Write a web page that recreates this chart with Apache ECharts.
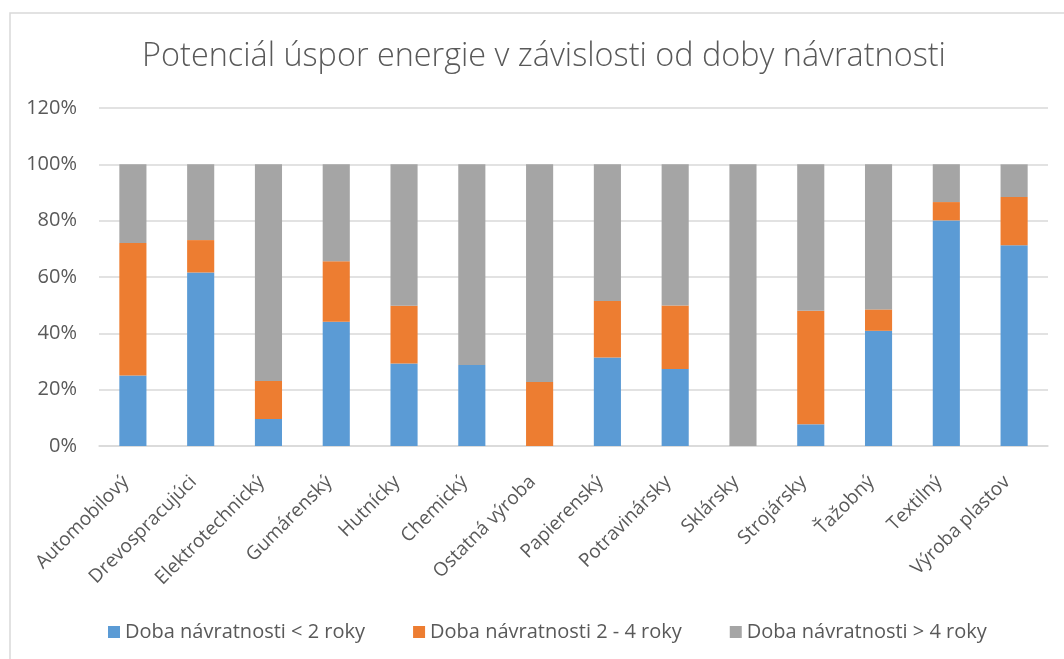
<!DOCTYPE html>
<html>
<head>
<meta charset="utf-8">
<script src="https://cdn.jsdelivr.net/npm/echarts@6/dist/echarts.min.js"></script>
<style>
html,body{margin:0;padding:0;background:#fff;}
#chart{width:1064px;height:659px;}
</style>
</head>
<body>
<div id="chart"></div>
<script>
const titleText = 'Potenciál úspor energie v závislosti od doby návratnosti';
const categories = ['Automobilový','Drevospracujúci','Elektrotechnický','Gumárenský','Hutnícky','Chemický','Ostatná výroba','Papierenský','Potravinársky','Sklársky','Strojársky','Ťažobný','Textilný','Výroba plastov'];
const seriesNames = ['Doba návratnosti < 2 roky','Doba návratnosti 2 - 4 roky','Doba návratnosti > 4 roky'];
const under2 = [25.0, 61.6, 9.6, 44.1, 29.3, 28.8, 0, 31.4, 27.3, 0, 7.7, 40.9, 80.1, 71.3];
const from2to4 = [47.1, 11.5, 13.5, 21.5, 20.5, 0, 22.7, 20.1, 22.6, 0, 40.3, 7.6, 6.5, 17.1];
const over4 = [27.9, 26.9, 76.9, 34.4, 50.2, 71.2, 77.3, 48.5, 50.1, 100, 52.0, 51.5, 13.4, 11.6];
const yTicks = {min: 0, max: 120, interval: 20};

const colors = ['#5B9BD5', '#ED7D31', '#A5A5A5'];
const font = '"Open Sans", "Noto Sans", sans-serif';
const txt = '#595959';

const chart = echarts.init(document.getElementById('chart'));
const mk = (name, data) => ({
  name, type: 'bar', stack: 'total', data,
  barCategoryGap: '60%'
});
chart.setOption({
  animation: false,
  color: colors,
  textStyle: {fontFamily: font},
  graphic: [{
    type: 'rect', shape: {x: 10, y: 13, width: 1200, height: 800},
    style: {fill: 'none', stroke: '#D9D9D9', lineWidth: 1.5}, silent: true
  }],
  title: {
    text: titleText, left: 539, textAlign: 'center', top: 36,
    textStyle: {fontFamily: font, fontWeight: 300, fontSize: 32.4, color: txt}
  },
  legend: {
    top: 617, left: 103, icon: 'rect', itemWidth: 12, itemHeight: 12, itemGap: 48,
    textStyle: {fontFamily: font, fontSize: 20, color: txt},
    data: seriesNames
  },
  grid: {left: 99, right: 16, top: 108, bottom: 213, containLabel: false},
  xAxis: {
    type: 'category', data: categories,
    axisLine: {show: true, lineStyle: {color: '#D9D9D9', width: 1.5}},
    axisTick: {show: false},
    axisLabel: {rotate: 45, margin: 26, padding: [0, 10, 0, 0], fontSize: 19, color: txt, fontFamily: font, interval: 0}
  },
  yAxis: {
    type: 'value', min: yTicks.min, max: yTicks.max, interval: yTicks.interval,
    axisLine: {show: false}, axisTick: {show: false},
    splitLine: {lineStyle: {color: '#D9D9D9', width: 1.5}},
    axisLabel: {formatter: '{value}%', fontSize: 20, color: txt, fontFamily: font, margin: 22}
  },
  series: [mk(seriesNames[0], under2), mk(seriesNames[1], from2to4), mk(seriesNames[2], over4)]
});
</script>
</body>
</html>
